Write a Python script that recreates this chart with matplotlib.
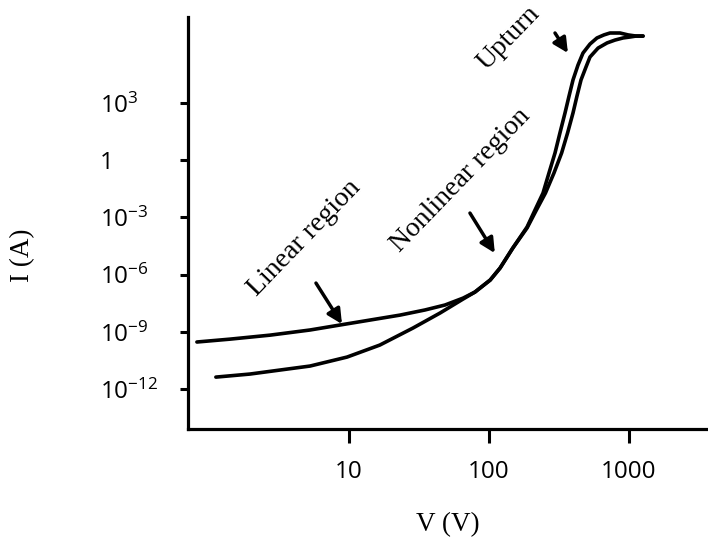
import matplotlib
matplotlib.use('Agg')
import matplotlib.pyplot as plt
import numpy as np

plt.rcParams['font.family'] = ['Open Sans', 'DejaVu Sans']
plt.rcParams['mathtext.fontset'] = 'custom'
plt.rcParams['mathtext.rm'] = 'Open Sans'
plt.rcParams['mathtext.default'] = 'regular'

# I-V curves (V in volts, I given as log10 of amps)
v_a = [0.82, 1.41, 2.73, 5.27, 8.6, 14.1, 23.1, 34.9, 48.5, 65.2, 79.4, 102, 120, 148,
       187, 213, 243, 268, 296, 321, 349, 373, 398, 432, 469, 526, 590, 662, 731, 863,
       984, 1122, 1259]
logi_a = [-9.53, -9.38, -9.17, -8.90, -8.64, -8.38, -8.12, -7.85, -7.59, -7.23, -6.91,
          -6.28, -5.65, -4.60, -3.50, -2.61, -1.72, -0.67, 0.38, 1.43, 2.48, 3.37, 4.21,
          4.99, 5.62, 6.09, 6.41, 6.57, 6.67, 6.67, 6.57, 6.51, 6.51]

v_b = [1.12, 1.96, 3.21, 5.27, 9.68, 16.6, 28.6, 44.7, 65.2, 79.4, 102, 120, 148, 187,
       218, 253, 291, 330, 364, 398, 425, 454, 493, 526, 601, 697, 794, 906, 1016, 1122,
       1259]
logi_b = [-11.37, -11.21, -11.0, -10.79, -10.32, -9.69, -8.80, -8.01, -7.28, -6.91, -6.28,
          -5.65, -4.60, -3.55, -2.61, -1.72, -0.67, 0.38, 1.43, 2.48, 3.37, 4.21, 4.89,
          5.41, 5.88, 6.15, 6.30, 6.41, 6.46, 6.51, 6.51]

ytick_exp = [3, 0, -3, -6, -9, -12]
ytick_lab = [r'$10^{3}$', '1', r'$10^{-3}$', r'$10^{-6}$', r'$10^{-9}$', r'$10^{-12}$']
xtick_val = [10, 100, 1000]
xtick_lab = ['10', '100', '1000']

# region labels: text, (V, log I) of text centre, arrow tail, arrow tip
regions = [
    ('Linear region', (4.77, -4.08), (5.81, -6.44), (8.91, -8.59)),
    ('Nonlinear region', (63.1, -1.04), (73.1, -2.77), (110, -4.87)),
    ('Upturn', (139, 6.4), (296, 6.67), (366, 5.62)),
]

fig = plt.figure(figsize=(7.08, 5.39), dpi=100)
ax = fig.add_axes([0.2655, 0.2041, 0.7345, 0.7644])

for v, li in [(v_a, logi_a), (v_b, logi_b)]:
    ax.plot(v, 10.0 ** np.array(li), color='black', lw=2.6,
            solid_capstyle='round', solid_joinstyle='round')

ax.set_xscale('log')
ax.set_yscale('log')
ax.set_xlim(0.708, 3664)
ax.set_ylim(10 ** -14.09, 10 ** 7.51)

ax.set_xticks(xtick_val)
ax.set_xticklabels(xtick_lab)
ax.set_yticks([10.0 ** e for e in ytick_exp])
ax.set_yticklabels(ytick_lab)
ax.minorticks_off()

for s in ['top', 'right']:
    ax.spines[s].set_visible(False)
for s in ['left', 'bottom']:
    ax.spines[s].set_linewidth(2.3)

ax.tick_params(axis='x', length=10, width=2.2, pad=12, labelsize=17.5)
ax.tick_params(axis='y', length=5.8, width=2.2, pad=57.6, labelsize=17.5)
for lab in ax.get_yticklabels():
    lab.set_horizontalalignment('left')

for txt, pos, tail, tip in regions:
    ax.text(pos[0], 10.0 ** pos[1], txt, rotation=46, rotation_mode='anchor',
            ha='center', va='center', fontsize=20, family='Liberation Serif',
            bbox=dict(facecolor='white', edgecolor='none', pad=4))
    ax.annotate('', xy=(tip[0], 10.0 ** tip[1]), xytext=(tail[0], 10.0 ** tail[1]),
                arrowprops=dict(arrowstyle='-|>', color='black', lw=2.5,
                                mutation_scale=22, shrinkA=0, shrinkB=0))

fig.text(0.0325, 0.527, 'I (A)', rotation=90, ha='center', va='center',
         fontsize=19.5, family='Liberation Serif')
fig.text(0.633, 0.026, 'V (V)', ha='center', va='center',
         fontsize=19.5, family='Liberation Serif')

fig.savefig('out.png', dpi=100)
